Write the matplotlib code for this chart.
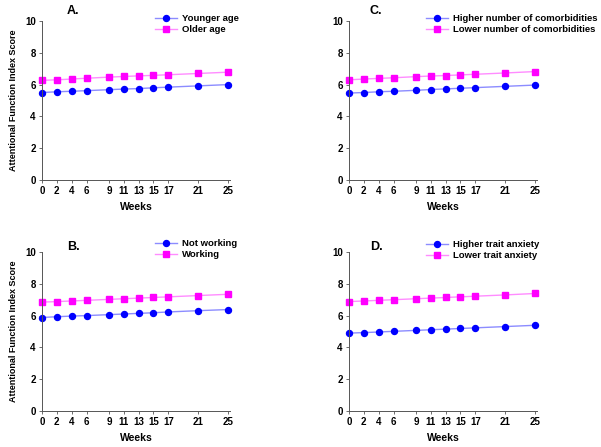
import matplotlib
matplotlib.use('Agg')
import matplotlib.pyplot as plt

plt.rcParams['font.family'] = ['Liberation Sans', 'DejaVu Sans']
plt.rcParams['font.weight'] = 'bold'

weeks = [0, 2, 4, 6, 9, 11, 13, 15, 17, 21, 25]

# panel A
younger = [5.50, 5.55, 5.58, 5.62, 5.68, 5.72, 5.75, 5.80, 5.84, 5.92, 6.00]
older = [6.27, 6.30, 6.35, 6.40, 6.47, 6.51, 6.55, 6.58, 6.62, 6.70, 6.78]
# panel B
not_working = [5.88, 5.93, 5.97, 6.00, 6.06, 6.10, 6.14, 6.18, 6.23, 6.31, 6.38]
working = [6.85, 6.88, 6.92, 6.96, 7.02, 7.06, 7.10, 7.14, 7.18, 7.26, 7.34]
# panel C
higher_comorb = [5.47, 5.50, 5.55, 5.58, 5.64, 5.69, 5.73, 5.77, 5.81, 5.89, 5.97]
lower_comorb = [6.30, 6.35, 6.39, 6.43, 6.50, 6.54, 6.57, 6.61, 6.65, 6.73, 6.82]
# panel D
higher_anx = [4.90, 4.93, 4.97, 5.01, 5.07, 5.11, 5.15, 5.19, 5.23, 5.31, 5.39]
lower_anx = [6.88, 6.92, 6.96, 7.00, 7.06, 7.10, 7.14, 7.18, 7.22, 7.30, 7.39]

# (title, series, labels, axes origin px, title px, legend px)
panels = [
    ('A.', younger, older, 'Younger age', 'Older age',
     (42, 21), (67, 11), (155, 14)),
    ('C.', higher_comorb, lower_comorb, 'Higher number of comorbidities',
     'Lower number of comorbidities', (349, 21), (370, 11), (426, 14)),
    ('B.', not_working, working, 'Not working', 'Working',
     (42, 252), (67, 247), (155, 239)),
    ('D.', higher_anx, lower_anx, 'Higher trait anxiety', 'Lower trait anxiety',
     (349, 252), (370, 247), (426, 240)),
]

W, H = 601, 447
fig = plt.figure(figsize=(W / 100, H / 100), dpi=100)

for title, s1, s2, lab1, lab2, (px, py), (tx, ty), (lx, ly) in panels:
    aw, ah = 188, 159
    ax = fig.add_axes([px / W, 1 - (py + ah) / H, aw / W, ah / H])
    ax.plot(weeks, s1, color='#8c8cff', lw=1.0, marker='o', ms=4.3,
            mfc='#0000ff', mec='#0000ff', label=lab1, clip_on=False)
    ax.plot(weeks, s2, color='#ff8cff', lw=1.0, marker='s', ms=3.8,
            mfc='#ff00ff', mec='#ff00ff', label=lab2, clip_on=False)
    ax.set_xlim(0, 25.3)
    ax.set_ylim(0, 10)
    ax.set_xticks(weeks)
    ax.set_yticks([0, 2, 4, 6, 8, 10])
    ax.tick_params(labelsize=7, length=2.5, width=0.6, pad=2, color='#555555')
    for lbl in ax.get_xticklabels() + ax.get_yticklabels():
        lbl.set_fontweight('bold')
    for side in ['top', 'right']:
        ax.spines[side].set_visible(False)
    for side in ['left', 'bottom']:
        ax.spines[side].set_linewidth(0.7)
        ax.spines[side].set_color('#555555')
    ax.set_xlabel('Weeks', fontsize=7.5, fontweight='bold', labelpad=4)
    if px < 300:
        ax.set_ylabel('Attentional Function Index Score', fontsize=6.5,
                      fontweight='bold', labelpad=5)
    fig.text(tx / W, 1 - ty / H, title, fontsize=9, fontweight='bold',
             ha='left', va='center')
    ax.legend(loc='upper left', bbox_to_anchor=(lx / W, 1 - ly / H),
              bbox_transform=fig.transFigure, frameon=False,
              fontsize=6.8, handlelength=2.3, handletextpad=0.6,
              labelspacing=0.2, borderaxespad=0, borderpad=0)

fig.savefig('out.png', dpi=100)
